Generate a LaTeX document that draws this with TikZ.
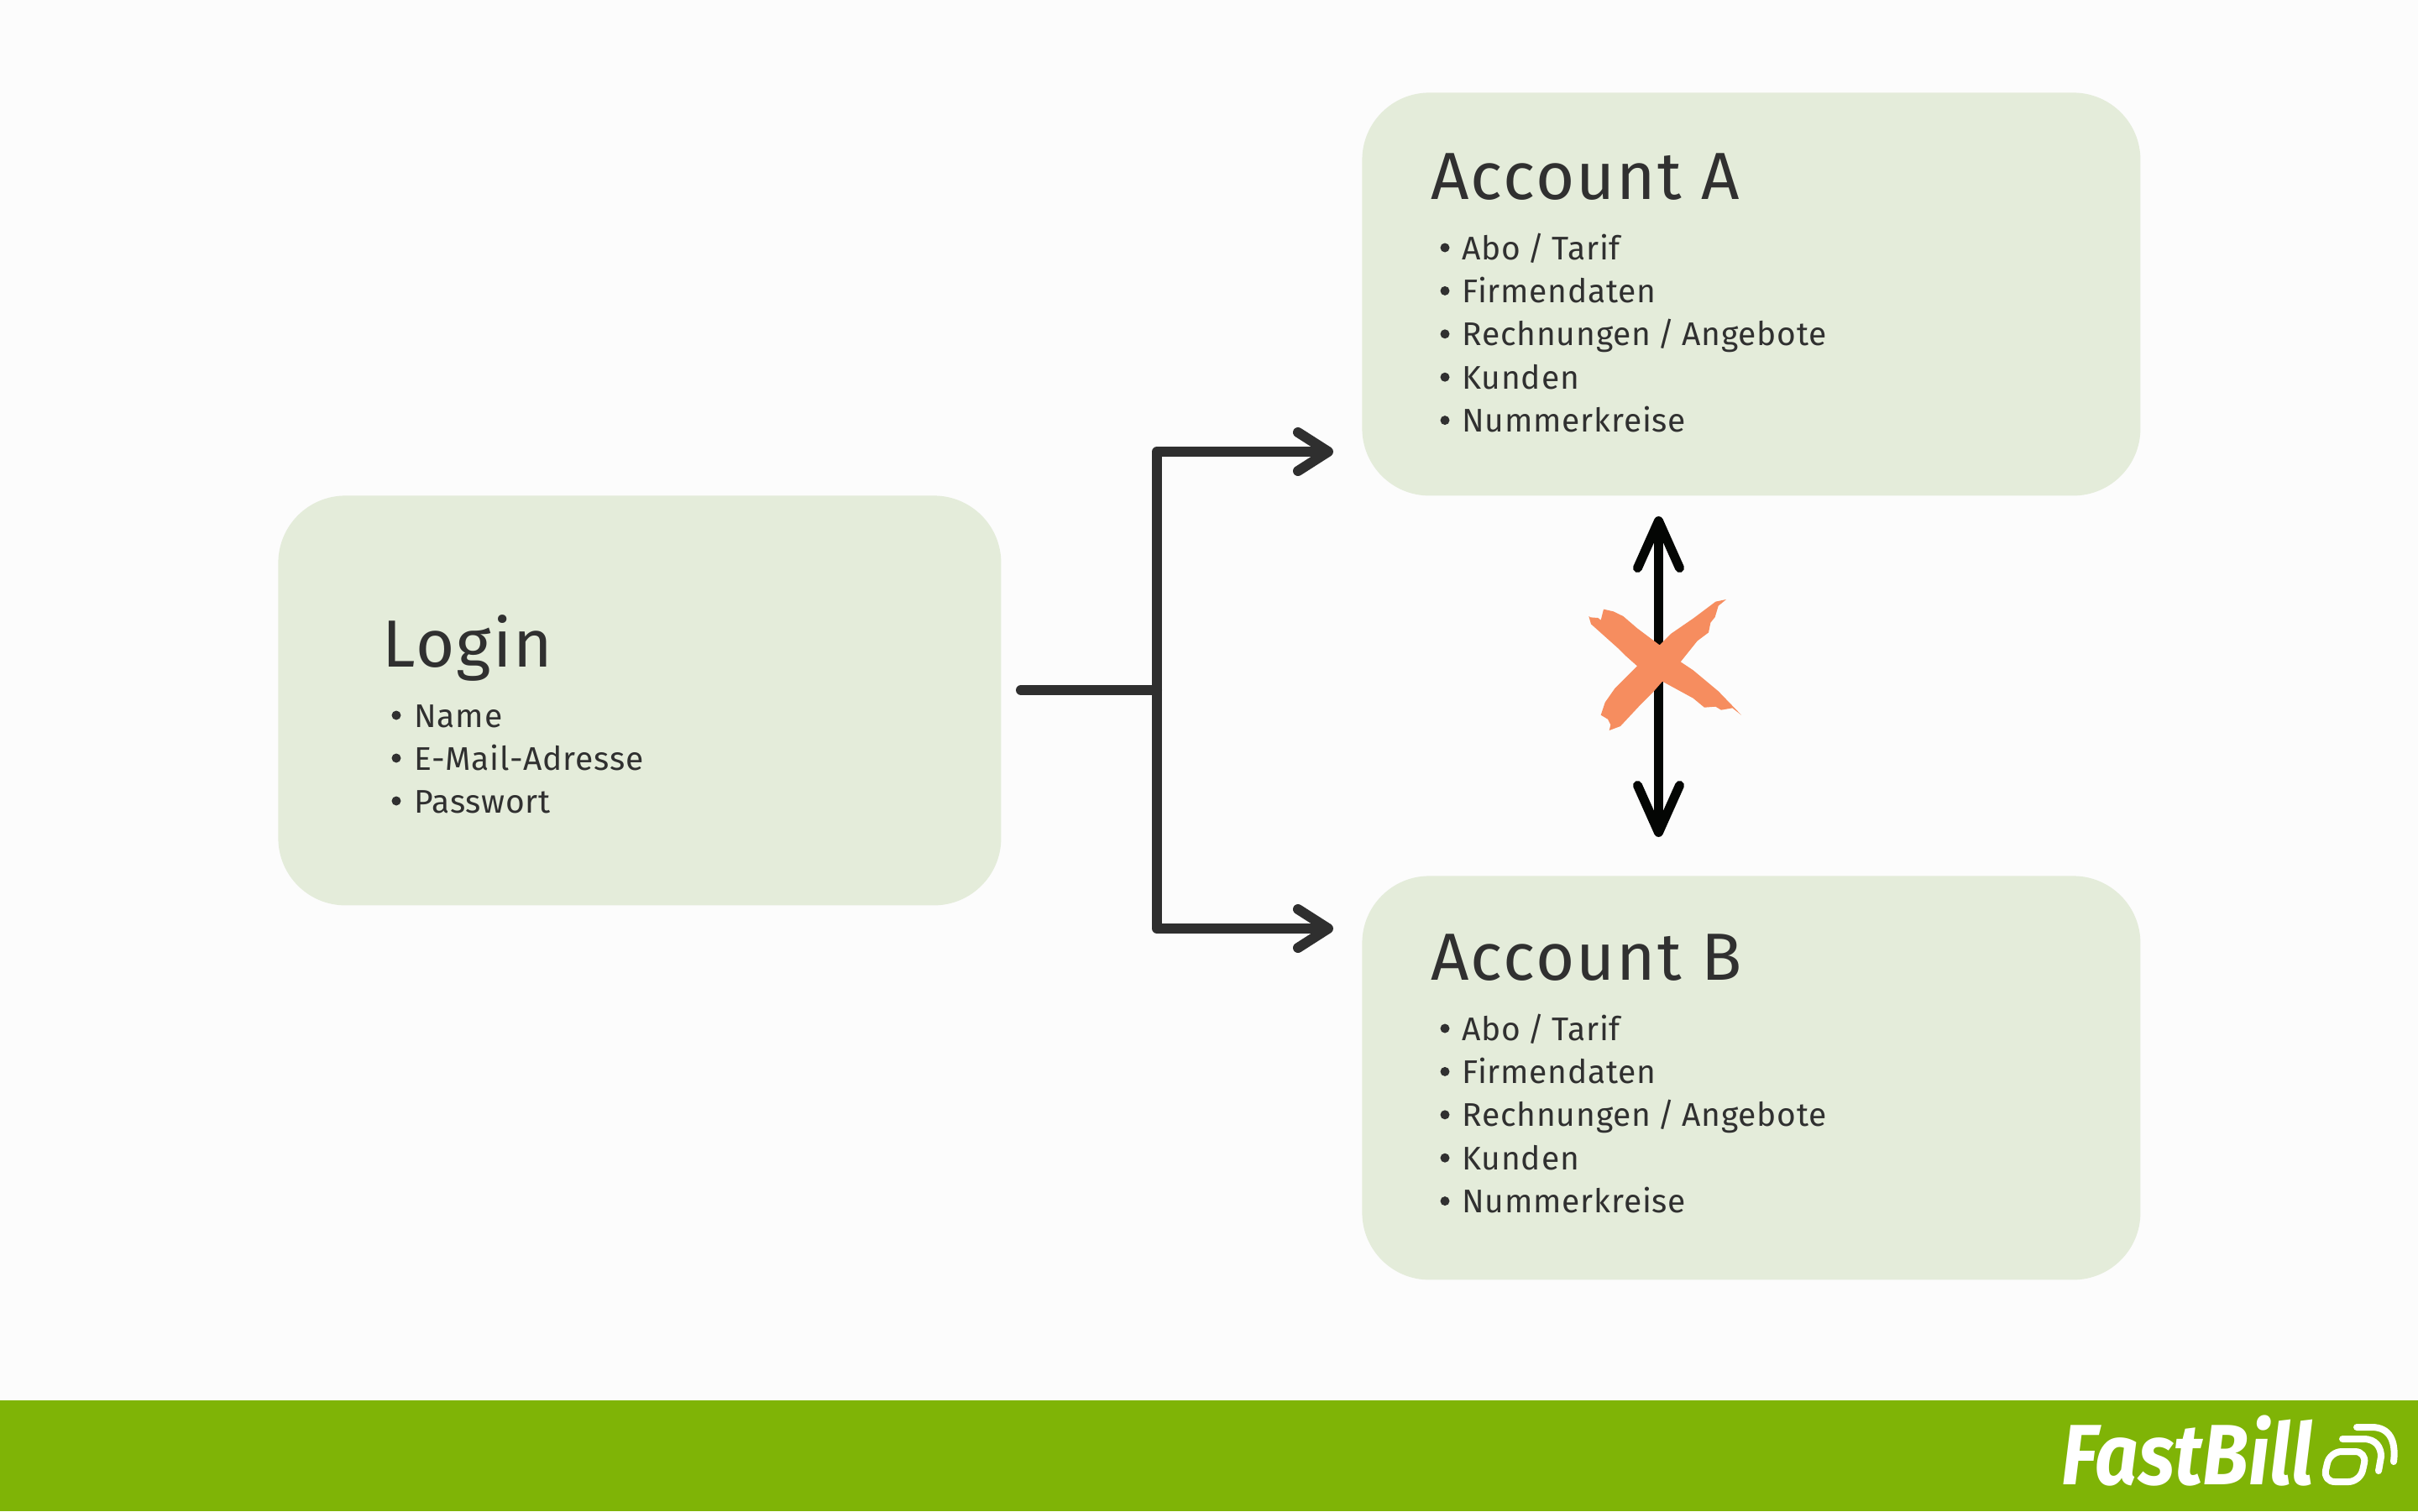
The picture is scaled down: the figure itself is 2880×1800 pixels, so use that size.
\documentclass[tikz,border=0pt]{standalone}
\usepackage{fontspec}
\usepackage{graphicx}
\setmainfont[LetterSpace=2.0,WordSpace=0.75]{Fira Sans}
\newfontfamily\titlefont[LetterSpace=2.7]{Fira Sans}
\newfontfamily\logofont{Fira Sans}
\usetikzlibrary{arrows.meta}
\definecolor{pagebg}{HTML}{FCFCFC}
\definecolor{boxbg}{HTML}{E4ECDA}
\definecolor{footbg}{HTML}{7FB406}
\definecolor{linedark}{HTML}{2F2F2F}
\definecolor{lineblack}{HTML}{040604}
\definecolor{crossc}{HTML}{F68D5F}
\definecolor{textc}{HTML}{303030}
\tikzset{
  x=0.5pt,y=-0.5pt,
  panel/.style={fill=boxbg,draw=none,rounded corners=40pt,inner sep=0pt,anchor=north west},
  titletext/.style={anchor=base west,inner sep=0pt,text=textc,font=\titlefont\fontsize{39.7}{44}\selectfont},
  itemtext/.style={anchor=base west,inner sep=0pt,text=textc,font=\fontsize{19.5}{24}\selectfont},
  bulletmark/.style={circle,fill=textc,inner sep=0pt,minimum size=5.5pt},
  branch/.style={draw=linedark,line width=6pt,line cap=round,line join=round},
  branchtip/.style={-{Straight Barb[length=18pt,width=23pt,round,line width=6pt]}},
  blockline/.style={draw=lineblack,line width=5.5pt,line cap=round},
  blocktip/.style={{Straight Barb[length=28pt,width=25pt,round,line width=5.5pt]}-{Straight Barb[length=28pt,width=25pt,round,line width=5.5pt]}},
  logomark/.style={draw=white,line width=4pt,line cap=round,line join=round}
}
\begin{document}
\begin{tikzpicture}
\useasboundingbox (0,0) rectangle (2880,1800);
\fill[pagebg] (0,0) rectangle (2880,1800);
\fill[footbg] (0,1668) rectangle (2880,1800);

% panels
\node[panel,minimum width=430.5pt,minimum height=244pt] (login) at (331,590) {};
\node[panel,minimum width=463.5pt,minimum height=240pt] (acca) at (1622,110) {};
\node[panel,minimum width=463.5pt,minimum height=240.5pt] (accb) at (1622,1043) {};

% Login
\node[titletext] (logintitle) at (455,794) {Login};
\foreach \n/\y/\t in {l1/866/{Name},l2/917/{E-Mail-Adresse},l3/968/{Passwort}}{
  \node[bulletmark] (\n b) at (472,\y-14) {};
  \node[itemtext] (\n) at (493,\y) {\t};
}
% Account A
\node[titletext] (atitle) at (1704,237) {Account A};
\foreach \n/\y/\t in {a1/309/{Abo / Tarif},a2/360.4/{Firmendaten},a3/411.8/{Rechnungen / Angebote},a4/463.2/{Kunden},a5/514.6/{Nummerkreise}}{
  \node[bulletmark] (\n b) at (1721,\y-14) {};
  \node[itemtext] (\n) at (1741,\y) {\t};
}
% Account B
\node[titletext] (btitle) at (1704,1167) {Account B};
\foreach \n/\y/\t in {b1/1239/{Abo / Tarif},b2/1290.4/{Firmendaten},b3/1341.8/{Rechnungen / Angebote},b4/1393.2/{Kunden},b5/1444.6/{Nummerkreise}}{
  \node[bulletmark] (\n b) at (1721,\y-14) {};
  \node[itemtext] (\n) at (1741,\y) {\t};
}

% branch connector
\coordinate (start) at (1216,822);
\coordinate (junction) at (1378,822);
\coordinate (topbend) at (1378,538);
\coordinate (botbend) at (1378,1106);
\coordinate (toptip) at (1588,538);
\coordinate (bottip) at (1588,1106);
\draw[branch] (start) -- (junction);
\draw[branch,branchtip] (junction) -- (topbend) -- (toptip);
\draw[branch,branchtip] (junction) -- (botbend) -- (bottip);

% blocked connector
\coordinate (uptip) at (1975.5,615);
\coordinate (downtip) at (1975.5,997);
\draw[blockline,blocktip] (uptip) -- (downtip);

% orange cross
\begin{scope}[shift={(1850,580)},x=0.16667pt,y=-0.16667pt]
\fill[crossc] (127,462) -- (133,466) -- (160,468) -- (170,476) -- (180,437) -- (215,445) -- (250,462)
 -- (300,505) -- (380,565) -- (420,525) -- (500,470) -- (580,410) -- (618,402)
 -- (590,425) -- (578,465) -- (562,485) -- (555,520) -- (515,550) -- (455,625)
 -- (500,655) -- (590,730) -- (672,815) -- (640,790) -- (600,797) -- (580,785)
 -- (540,788) -- (500,755) -- (390,695) -- (355,735) -- (310,780) -- (240,855)
 -- (200,870) -- (205,850) -- (195,830) -- (170,815) -- (185,770) -- (220,720) -- (300,640)
 -- (255,600) -- (230,575) -- (135,490) -- cycle;
\end{scope}

% logo
\node[anchor=base west,inner sep=0pt,text=white,font=\logofont\fontsize{51}{56}\selectfont\bfseries\itshape] (logo) at (2455,1768) {\scalebox{0.885}[1]{FastBill}};
\draw[logomark,rounded corners=7pt] (2775,1729) -- (2819,1729) -- (2811,1765) -- (2767,1765) -- cycle;
\coordinate (arcA) at (2790,1714);
\coordinate (arcAe) at (2833,1752);
\coordinate (arcB) at (2807,1700);
\coordinate (arcBe) at (2851,1741);
\draw[logomark] (arcA) -- (2815,1714) .. controls (2830,1714) and (2836,1724) .. (2836,1735) -- (arcAe);
\draw[logomark] (arcB) -- (2825,1700) .. controls (2846,1700) and (2854,1716) .. (arcBe);
\end{tikzpicture}
\end{document}
